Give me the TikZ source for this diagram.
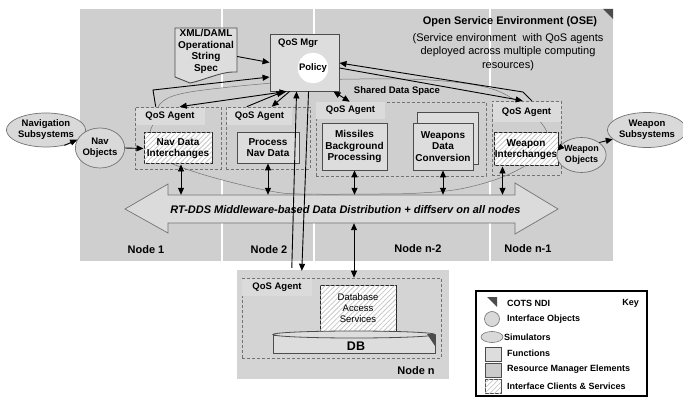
\documentclass[tikz,border=0pt]{standalone}
\usepackage{fontspec}
\setmainfont{Liberation Sans}
\usetikzlibrary{arrows.meta,shapes.geometric,patterns.meta,calc}
\definecolor{bgc}{gray}{0.81}
\definecolor{labc}{gray}{0.86}
\definecolor{funcc}{gray}{0.865}
\definecolor{rmec}{gray}{0.80}
\definecolor{nodenc}{gray}{0.83}
\definecolor{bdr}{gray}{0.30}
\definecolor{dashc}{gray}{0.45}
\definecolor{ellc}{gray}{0.85}
\definecolor{ellb}{gray}{0.45}
\newcommand\fsz[2]{\fontsize{#1}{#2}\selectfont}
\begin{document}
\begin{tikzpicture}[x=1pt,y=-1pt,
  base/.style={font=\fsz{10}{11.5}\bfseries, align=center, inner sep=0pt},
  funcbox/.style={base, draw=bdr, fill=funcc, line width=0.9pt},
  hatchbox/.style={base, draw=black!85, line width=1pt, fill=white,
     postaction={pattern={Lines[angle=45,distance=3.5pt,line width=0.8pt]}, pattern color=black!22}},
  agentbox/.style={draw=dashc, dash pattern=on 3pt off 2pt, line width=0.6pt, inner sep=0pt},
  labbox/.style={fill=labc, inner sep=0pt, font=\fsz{9.5}{10}\bfseries},
  ell/.style={base, ellipse, draw=ellb, fill=ellc, line width=0.7pt, font=\fsz{9.5}{11}\bfseries},
  arr/.style={-{Triangle[length=7pt,width=6pt]}, line width=0.9pt},
  dbl/.style={{Triangle[length=7pt,width=6pt]}-{Triangle[length=7pt,width=6pt]}, line width=0.9pt},
  nodelbl/.style={font=\fsz{11}{13}\bfseries, inner sep=0pt},
  legtxt/.style={font=\fsz{9}{10}\bfseries, inner sep=0pt, anchor=west}
]
\useasboundingbox (0,0) rectangle (683,398);

% ---- environment background
\fill[bgc] (80,9) rectangle (613,261);
\fill[white] (221,9) rectangle (223,261);
\fill[white] (312.5,9) rectangle (314.5,261);
\fill[white] (489,9) rectangle (491,261);
\fill[black!70] (603,9) -- (613,9) -- (613,19) -- cycle;

% ---- shared data space blob
\draw[fill=bgc, draw=black!55, line width=0.5pt]
  plot[smooth cycle, tension=0.6] coordinates {
   (150,145) (150,132) (155,120) (160,104) (180,94) (230,87) (300,81) (360,79)
   (430,80) (485,87) (515,100) (537,118) (548,135) (545,150) (530,163)
   (500,178) (460,189) (420,193) (380,194) (300,194) (270,191) (230,182)
   (195,172) (168,162) (155,155)};

% ---- titles
\node[font=\fsz{11}{13}\bfseries, inner sep=0pt] (osetitle) at (510,22) {Open Service Environment (OSE)};
\node[font=\fsz{11}{13.3}\selectfont, align=center, inner sep=0pt] (osesub) at (508,52)
  {(Service environment\ \ with QoS agents\\deployed across multiple computing\\resources)};
\node[font=\fsz{9.5}{10}\bfseries, inner sep=0pt] (sdslbl) at (397,91) {Shared Data Space};

% ---- XML doc
\path[fill=funcc, draw=bdr, line width=0.9pt]
  (175,28) -- (237,28) -- (237,72) .. controls (222,71) and (205,80) .. (190,83) -- (175,77) -- cycle;
\node[base, minimum width=62, minimum height=44] (xml) at (206,51.5) {XML/DAML\\Operational\\String\\Spec};

% ---- QoS Mgr
\node[funcbox, minimum width=69, minimum height=57] (mgr) at (304.5,62.5) {};
\node[font=\fsz{9.5}{10}\bfseries, inner sep=0pt, anchor=west] (mgrlbl) at (278,43) {QoS Mgr};
\node[base, circle, fill=white, draw=white, minimum size=30, font=\fsz{9.5}{10}\bfseries] (policy) at (313,68) {Policy};

% ---- agent boxes
\node[agentbox, minimum width=86, minimum height=62] (a1) at (178,138) {};
\node[labbox, minimum width=69, minimum height=17] (a1l) at (170,116.5) {QoS Agent};
\node[hatchbox, minimum width=68, minimum height=31] (navdi) at (178,148.5) {Nav Data\\Interchanges};

\node[agentbox, minimum width=84, minimum height=62] (a2) at (268,138) {};
\node[labbox, minimum width=65, minimum height=17] (a2l) at (259.5,116.5) {QoS Agent};
\node[funcbox, minimum width=62, minimum height=31] (pnd) at (268,147.5) {Process\\Nav Data};

\node[agentbox, minimum width=170, minimum height=74] (sds) at (401,139) {};
\node[labbox, minimum width=69, minimum height=17] (a3l) at (350.5,110.5) {QoS Agent};
\node[funcbox, minimum width=65, minimum height=47] (mis) at (354.5,146.5) {Missiles\\Background\\Processing};
\node[funcbox, minimum width=61, minimum height=52] (wdcb) at (447.5,138) {};
\node[funcbox, minimum width=60, minimum height=47] (wdc) at (443,146.5) {Weapons\\Data\\Conversion};

\node[agentbox, minimum width=69, minimum height=74] (a4) at (526.5,138) {};
\node[labbox, minimum width=68, minimum height=20] (a4l) at (526.5,112.5) {QoS Agent};
\node[hatchbox, minimum width=64, minimum height=33] (wi) at (526,149.5) {Weapon\\Interchanges};

% ---- interface objects / simulators
\node[ell, minimum width=66, minimum height=34] (navsub) at (46,130) {Navigation\\Subsystems};
\node[ell, minimum width=36, minimum height=40] (navobj) at (100,148) {Nav\\Objects};
\node[ell, minimum width=30, minimum height=35, font=\fsz{9}{11}\bfseries] (wobj) at (581.5,155) {Weapon\\Objects};
\node[ell, minimum width=66, minimum height=35] (wsub) at (647,130) {Weapon\\Subsystems};

% ---- data bus
\path[fill=labc, draw=black!55, line width=0.7pt]
  (125,209) -- (168,184) -- (168,195) -- (515,195) -- (515,183) -- (558,209)
  -- (515,234) -- (515,223) -- (168,223) -- (168,233) -- cycle;
\node[minimum width=347, minimum height=28, inner sep=0pt] (bus) at (341.5,209) {};
\node[font=\fsz{11}{13}\bfseries\itshape, inner sep=0pt] (bustxt) at (345.5,210)
  {RT-DDS Middleware-based Data Distribution + diffserv on all nodes};

% ---- node labels
\node[nodelbl] (n1) at (146,250) {Node 1};
\node[nodelbl] (n2) at (269,250) {Node 2};
\node[nodelbl] (nn2) at (418,249) {Node n-2};
\node[nodelbl] (nn1) at (528,249) {Node n-1};

% ---- node n
\node[fill=nodenc, minimum width=212, minimum height=109, inner sep=0pt] (noden) at (343,324.5) {};
\node[agentbox, minimum width=199, minimum height=80] (a5) at (341.5,318) {};
\node[labbox, minimum width=70, minimum height=17] (a5l) at (277,287.5) {QoS Agent};
\node[hatchbox, minimum width=76, minimum height=45, font=\fsz{9.5}{11}\selectfont] (das) at (358,308.5) {Database\\Access\\Services};
\path[fill=funcc, draw=bdr, line width=0.8pt] (273,335) -- (273,353) -- (435,353) -- (435,335) -- cycle;
\path[fill=funcc, draw=bdr, line width=0.8pt] (354,334.5) ellipse [x radius=81, y radius=3.5];
\fill[black!70] (427,334) -- (435,334) -- (435,346) -- cycle;
\node[font=\fsz{12.5}{14}\bfseries, inner sep=0pt] (db) at (356,346) {DB};
\node[nodelbl] (nn) at (416,371) {Node n};

% ---- connectors
\draw[arr] (navsub.-40) -- (navobj.160);
\draw[arr] (navobj.east) -- (navdi.west);
\draw[arr] (wi.east) -- (wobj.170);
\draw[arr] (wobj.35) -- (wsub.195);

\draw[arr] ($(xml.east)+(0,5)$) -- ($(mgr.west)+(0,0)$);
\draw[arr] ($(a1.north west)+(21,0)$) -- (153,90) -- ($(mgr.west)+(0,14.5)$);
\draw[dbl] ($(mgr.south west)+(17,0)$) -- ($(a1.north west)+(45,0)$);
\draw[arr] ($(a2.north west)+(21,0)$) -- ($(mgr.south west)+(14,0)$);
\draw[arr] ($(mgr.south west)+(20,0)$) -- ($(a2.north west)+(46,0)$);
\draw[arr] ($(noden.north west)+(55,-2)$) -- ($(mgr.south west)+(27,0)$);
\draw[arr] ($(mgr.south west)+(39,0)$) -- ($(noden.north west)+(65,1)$);
\draw[dbl] ($(mgr.south east)+(-6,0)$) -- ($(sds.north west)+(34,0)$);
\draw[arr] ($(a4.north west)+(40,0)$) -- (523,92) -- ($(mgr.east)+(0,0.5)$);
\draw[arr] ($(mgr.east)+(0,5.5)$) -- ($(a4.north west)+(31,0)$);

\draw[dbl] ($(navdi.south)+(3,0)$) coordinate (v1) -- (v1 |- bus.north);
\draw[dbl] (pnd.south) -- (pnd.south |- bus.north);
\draw[dbl] (mis.south) -- (mis.south |- bus.north);
\draw[dbl] (wdc.south) -- (wdc.south |- bus.north);
\draw[dbl] ($(wi.south west)+(9,0)$) coordinate (v5) -- (v5 |- bus.north);
\draw[dbl] ($(bus.south)+(12.5,0)$) coordinate (v6) -- (v6 |- a5.north);

% ---- legend
\node[draw=black, line width=1.6pt, minimum width=171, minimum height=105, inner sep=0pt] (legend) at (561.5,343.5) {};
\fill[black!70] (487,297) -- (497,297) -- (497,307) -- cycle;
\node[legtxt] (k1) at (507,303) {COTS NDI};
\node[font=\fsz{9}{10}\bfseries, inner sep=0pt, anchor=east] (key) at (639,303) {Key};
\node[circle, draw=ellb, fill=ellc, line width=0.6pt, minimum size=15, inner sep=0pt] (kc) at (492,319) {};
\node[legtxt] (k2) at (507,319) {Interface Objects};
\node[ellipse, draw=ellb, fill=ellc, line width=0.6pt, minimum width=22, minimum height=11, inner sep=0pt] (ke) at (492,337) {};
\node[legtxt] (k3) at (504,337) {Simulators};
\node[draw=bdr, fill=funcc, line width=0.6pt, minimum width=16, minimum height=14, inner sep=0pt] (kf) at (493,354) {};
\node[legtxt] (k4) at (507,353) {Functions};
\node[draw=bdr, fill=rmec, line width=0.6pt, minimum width=16, minimum height=14, inner sep=0pt] (kr) at (493,370) {};
\node[legtxt] (k5) at (507,369) {Resource Manager Elements};
\node[draw=bdr, fill=white, line width=0.6pt, minimum width=16, minimum height=14, inner sep=0pt,
  postaction={pattern={Lines[angle=45,distance=3.5pt,line width=0.8pt]}, pattern color=black!22}] (kh) at (493,386) {};
\node[legtxt] (k6) at (507,386) {Interface Clients \& Services};
\end{tikzpicture}
\end{document}
